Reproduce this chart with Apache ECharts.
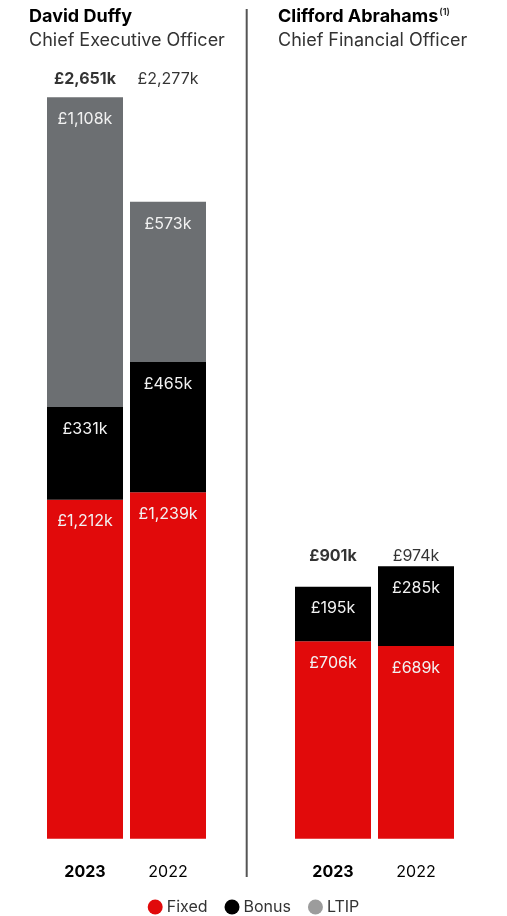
<!DOCTYPE html>
<html><head><meta charset="utf-8">
<script src="https://cdn.jsdelivr.net/npm/echarts@6/dist/echarts.min.js"></script>
<style>html,body{margin:0;padding:0;background:#fff}#c{width:507px;height:916px}</style>
</head><body><div id="c"></div>
<script>
const years = ['2023', '2022'];
const ceoFixed = [1212, 1239];
const ceoBonus = [331, 465];
const ceoLtip = [1108, 573];
const ceoTotal = [2651, 2277];
const cfoFixed = [706, 689];
const cfoBonus = [195, 285];
const cfoLtip = [0, 0];
const cfoTotal = [901, 974];
const people = [
  {name: 'David Duffy', note: '', role: 'Chief Executive Officer'},
  {name: 'Clifford Abrahams', note: '(1)', role: 'Chief Financial Officer'}
];

const RED = '#E10A0B', BLACK = '#000000', GREY = '#6C6F72';
const FONT = 'Inter';
const fmt = v => '£' + v.toLocaleString('en-GB') + 'k';
const chart = echarts.init(document.getElementById('c'));
const YMAX = 2800;

function segLabel() {
  return {show: true, position: 'insideTop', distance: 14, color: '#F2F2F2',
    fontFamily: FONT, fontSize: 16, formatter: p => p.value > 0 ? fmt(p.value) : ''};
}
function bars(idx, fixed, bonus, ltip) {
  const st = 's' + idx;
  const mk = (name, data, color) => ({
    name, type: 'bar', stack: st, xAxisIndex: idx, yAxisIndex: idx, data,
    barWidth: 76, itemStyle: {color}, label: segLabel(), silent: true
  });
  return [mk('Fixed', fixed, RED), mk('Bonus', bonus, BLACK), mk('LTIP', ltip, GREY)];
}
function totals(idx, tot, dist) {
  const anchor = Math.max(...tot);
  return {
    type: 'scatter', xAxisIndex: idx, yAxisIndex: idx, symbolSize: 0, silent: true,
    data: tot.map(() => anchor),
    label: {show: true, position: 'top', distance: dist, fontFamily: FONT, fontSize: 16, color: '#000',
      formatter: p => p.dataIndex === 0 ? '{b|' + fmt(tot[p.dataIndex]) + '}' : '{n|' + fmt(tot[p.dataIndex]) + '}',
      rich: {b: {fontWeight: 'bold', fontFamily: FONT, fontSize: 16, color: '#000'},
             n: {fontFamily: FONT, fontSize: 16, color: '#000'}}}
  };
}
const grids = [{left: 43.5, width: 166, top: 55.5, bottom: 77.3}, {left: 291.5, width: 166, top: 55.5, bottom: 77.3}];
const xAxes = grids.map((g, i) => ({
  type: 'category', gridIndex: i, data: years,
  axisLine: {show: false}, axisTick: {show: false},
  axisLabel: {interval: 0, margin: 25, fontFamily: FONT, fontSize: 16, color: '#000',
    formatter: (v, k) => k === 0 ? '{b|' + v + '}' : '{n|' + v + '}',
    rich: {b: {fontWeight: 'bold', fontFamily: FONT, fontSize: 16, color: '#000'},
           n: {fontFamily: FONT, fontSize: 16, color: '#000'}}}
}));
const yAxes = grids.map((g, i) => ({type: 'value', gridIndex: i, min: 0, max: YMAX, show: false, splitLine: {show: false}}));

chart.setOption({
  animation: false,
  backgroundColor: '#fff',
  title: [
    {left: 29, top: 8, padding: 0, text: people[0].name, subtext: people[0].role, itemGap: 6,
      textStyle: {fontFamily: FONT, fontSize: 18, fontWeight: 'bold', color: '#000'},
      subtextStyle: {fontFamily: FONT, fontSize: 18, color: '#333'}},
    {left: 278, top: 8, padding: 0, text: '{n|' + people[1].name + '}{s|' + people[1].note + '}', subtext: people[1].role, itemGap: 6,
      textStyle: {fontFamily: FONT, fontSize: 18, fontWeight: 'bold', color: '#000',
        rich: {n: {fontFamily: FONT, fontSize: 18, fontWeight: 'bold', color: '#000'},
               s: {fontFamily: FONT, fontSize: 9, color: '#333', verticalAlign: 'top', padding: [0, 0, 8, 1]}}},
      subtextStyle: {fontFamily: FONT, fontSize: 18, color: '#333'}}
  ],
  legend: {
    top: 899, left: 'center', icon: 'circle', itemWidth: 15, itemHeight: 15, itemGap: 17, padding: 0,
    textStyle: {fontFamily: FONT, fontSize: 16, color: '#333', padding: [0, 0, 0, -1]},
    data: [{name: 'Fixed'}, {name: 'Bonus'}, {name: 'LTIP', itemStyle: {color: '#9C9C9C'}}],
    selectedMode: false
  },
  grid: grids,
  xAxis: xAxes,
  yAxis: yAxes,
  graphic: [{type: 'line', shape: {x1: 246.7, y1: 9, x2: 246.7, y2: 877}, style: {stroke: '#555', lineWidth: 2}}],
  series: [
    ...bars(0, ceoFixed, ceoBonus, ceoLtip),
    ...bars(1, cfoFixed, cfoBonus, cfoLtip),
    totals(0, ceoTotal, 10),
    totals(1, cfoTotal, 2)
  ]
});
</script></body></html>
